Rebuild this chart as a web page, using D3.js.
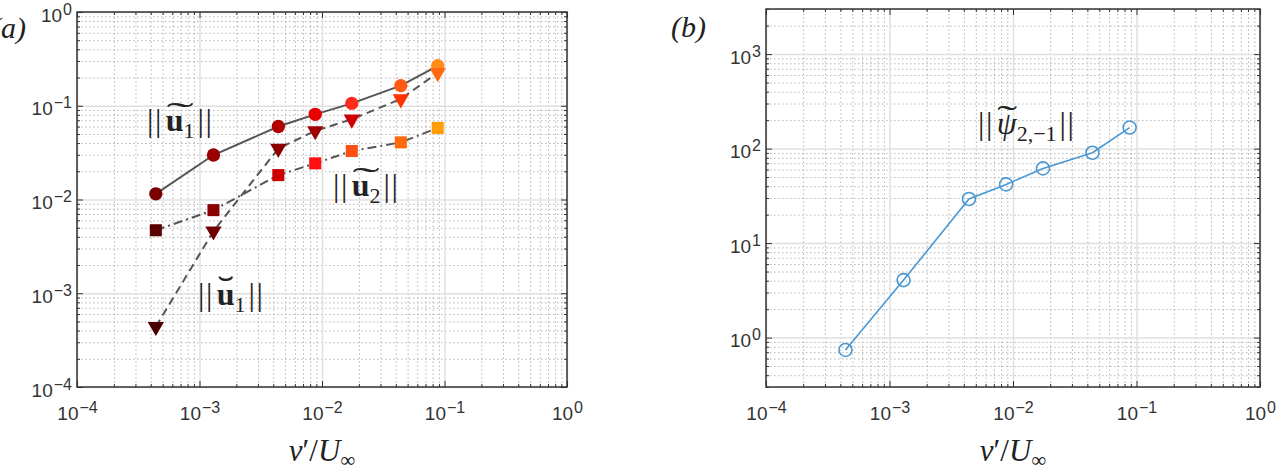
<!DOCTYPE html>
<html>
<head>
<meta charset="utf-8">
<script src="https://cdn.jsdelivr.net/npm/d3@7"></script>
<style>
body { margin: 0; background: #fff; }
svg { display: block; }
.grid .domain, .ticks .domain { display: none; }
.grid.major line { stroke: #e0e0e0; stroke-width: 1.5; }
.grid.minor line { stroke: #b4b4b4; stroke-width: 1; stroke-dasharray: 1.5 2.5; }
.ticks line { stroke: #333; stroke-width: 1; }
.math { font-family: "Liberation Serif", "DejaVu Serif", serif; fill: #222; }
</style>
</head>
<body>
<svg width="1278" height="471"></svg>
<script>
// values
var amp = [4.4e-4, 1.3e-3, 4.4e-3, 8.8e-3, 1.75e-2, 4.4e-2, 8.8e-2];
var u1Tilde = [0.0115, 0.0298, 0.060, 0.081, 0.106, 0.164, 0.267];
var u1Check = [4.4e-4, 4.6e-3, 0.035, 0.054, 0.0717, 0.118, 0.225];
var u2Tilde = [4.7e-3, 7.7e-3, 0.0182, 0.0243, 0.0329, 0.0407, 0.058];
var psi = [0.74, 4.06, 29.3, 41.8, 61.7, 90.4, 167];

// marker colours, one per amplitude
var redsCircle = ["#7a0000", "#990000", "#b00000", "#e80000", "#ff2a1a", "#ff5a14", "#ff8c1a"];
var redsTri = ["#4a0000", "#700000", "#8a0000", "#a00000", "#d00000", "#ff3300", "#ff6a10"];
var redsSquare = ["#5a0000", "#8b0000", "#cc0000", "#ff1010", "#ff5014", "#ff6a0a", "#ff9d00"];

var svg = d3.select("svg");

function isDecade(d) {
    var l = Math.log10(d);
    return Math.abs(l - Math.round(l)) < 1e-6;
}

function powLabel(sel) {
    sel.style("font-family", '"Liberation Sans", Arial, sans-serif')
        .style("font-size", "19px").style("fill", "#333");
    sel.each(function (d) {
        var t = d3.select(this);
        var e = Math.round(Math.log10(d));
        t.text(null);
        t.append("tspan").text("10");
        t.append("tspan").attr("dy", -7).attr("dx", 1).style("font-size", "16px")
            .text(e < 0 ? "\u2212" + (-e) : e);
    });
}

function panel(xDomain, xRange, yDomain, yRange) {
    var x = d3.scaleLog().domain(xDomain).range(xRange);
    var y = d3.scaleLog().domain(yDomain).range(yRange);
    var x0 = xRange[0], x1 = xRange[1], y0 = yRange[1], y1 = yRange[0];
    var w = x1 - x0, h = y1 - y0;
    var xMinor = x.ticks().filter(function (d) { return !isDecade(d); });
    var yMinor = y.ticks().filter(function (d) { return !isDecade(d); });
    var xMajor = x.ticks().filter(isDecade);
    var yMajor = y.ticks().filter(isDecade);
    var g = svg.append("g");

    // grid
    g.append("g").attr("class", "grid minor").attr("transform", "translate(0," + y1 + ")")
        .call(d3.axisBottom(x).tickValues(xMinor).tickSize(-h).tickFormat(""));
    g.append("g").attr("class", "grid minor").attr("transform", "translate(" + x0 + ",0)")
        .call(d3.axisLeft(y).tickValues(yMinor).tickSize(-w).tickFormat(""));
    g.append("g").attr("class", "grid major").attr("transform", "translate(0," + y1 + ")")
        .call(d3.axisBottom(x).tickValues(xMajor).tickSize(-h).tickFormat(""));
    g.append("g").attr("class", "grid major").attr("transform", "translate(" + x0 + ",0)")
        .call(d3.axisLeft(y).tickValues(yMajor).tickSize(-w).tickFormat(""));

    // inward ticks on all four sides
    [[xMinor, 3], [xMajor, 6]].forEach(function (p) {
        g.append("g").attr("class", "ticks").attr("transform", "translate(0," + y1 + ")")
            .call(d3.axisBottom(x).tickValues(p[0]).tickSize(-p[1]).tickFormat(""));
        g.append("g").attr("class", "ticks").attr("transform", "translate(0," + y0 + ")")
            .call(d3.axisTop(x).tickValues(p[0]).tickSize(-p[1]).tickFormat(""));
    });
    [[yMinor, 3], [yMajor, 6]].forEach(function (p) {
        g.append("g").attr("class", "ticks").attr("transform", "translate(" + x0 + ",0)")
            .call(d3.axisLeft(y).tickValues(p[0]).tickSize(-p[1]).tickFormat(""));
        g.append("g").attr("class", "ticks").attr("transform", "translate(" + x1 + ",0)")
            .call(d3.axisRight(y).tickValues(p[0]).tickSize(-p[1]).tickFormat(""));
    });

    // labels
    var xl = g.append("g").attr("class", "ticks").attr("transform", "translate(0," + y1 + ")")
        .call(d3.axisBottom(x).tickValues(xMajor).tickSize(0));
    xl.selectAll(".tick text").attr("y", 33).attr("dy", null).call(powLabel);
    var yl = g.append("g").attr("class", "ticks").attr("transform", "translate(" + x0 + ",0)")
        .call(d3.axisLeft(y).tickValues(yMajor).tickSize(0));
    yl.selectAll(".tick text").attr("x", -5).attr("y", 9).attr("dy", null).call(powLabel);

    g.append("rect").attr("x", x0).attr("y", y0).attr("width", w).attr("height", h)
        .attr("fill", "none").attr("stroke", "#333").attr("stroke-width", 1.5);

    // x axis title
    var t = g.append("text").attr("class", "math").attr("x", (x0 + x1) / 2).attr("y", 461)
        .attr("text-anchor", "middle").attr("font-size", 31);
    t.append("tspan").attr("font-style", "italic").text("v");
    t.append("tspan").text("\u2032/");
    t.append("tspan").attr("font-style", "italic").text("U");
    t.append("tspan").attr("font-size", 21).attr("dy", 6).text("\u221e");

    return { g: g, x: x, y: y };
}

// (a)
var pa = panel([1e-4, 1], [77, 567], [1e-4, 1], [387, 12]);

function series(p, vals, dash, colors, shape, size, rot) {
    var line = d3.line().x(function (d, i) { return p.x(amp[i]); }).y(function (d) { return p.y(d); });
    p.g.append("path").datum(vals).attr("d", line).attr("fill", "none")
        .attr("stroke", "#555").attr("stroke-width", 2).attr("stroke-dasharray", dash);
    p.g.selectAll(null).data(vals).enter().append("path")
        .attr("d", d3.symbol(shape, size))
        .attr("transform", function (d, i) { return "translate(" + p.x(amp[i]) + "," + p.y(d) + ") rotate(" + rot + ")"; })
        .attr("fill", function (d, i) { return colors[i]; });
}

series(pa, u1Tilde, null, redsCircle, d3.symbolCircle, 140, 0);
series(pa, u1Check, "8 5", redsTri, d3.symbolTriangle, 115, 180);
series(pa, u2Tilde, "9 4 2 4", redsSquare, d3.symbolSquare, 145, 0);

// ||base_sub|| with an accent placed above the base (wide accents also cover the subscript)
function norm(g, x, y, base, sub, accent, wide, italic) {
    var t = g.append("text").attr("class", "math").attr("x", x).attr("y", y).attr("font-size", 32);
    t.append("tspan").attr("letter-spacing", 1.5).text("||");
    var b = t.append("tspan").attr("dx", 3).attr("font-weight", italic ? null : "bold")
        .attr("font-style", italic ? "italic" : null).text(base);
    var s = t.append("tspan").attr("font-size", 22).attr("dy", 7).text(sub);
    t.append("tspan").attr("dy", -7).attr("dx", 3).attr("letter-spacing", 1.5).text("||");
    var bb = b.node().getBBox(), sb = s.node().getBBox();
    var left = bb.x, right = wide ? sb.x + sb.width : bb.x + bb.width;
    var wAcc = Math.max(right - left, 14) * 0.95;
    t.append("tspan").attr("x", (left + right) / 2 - wAcc / 2).attr("y", bb.y + 24)
        .attr("font-size", 34).attr("font-weight", "normal").attr("font-style", "normal")
        .attr("textLength", wAcc).attr("lengthAdjust", "spacingAndGlyphs").text(accent);
}

norm(pa.g, 147, 131, "u", "1", "\u02dc", true, false);
norm(pa.g, 333, 196, "u", "2", "\u02dc", true, false);
norm(pa.g, 198, 305, "u", "1", "\u02d8", false, false);

svg.append("text").attr("class", "math").attr("x", -9).attr("y", 38)
    .attr("font-size", 30).attr("font-style", "italic").text("(a)");

// (b)
var pb = panel([1e-4, 1], [766, 1260], [0.3, 3000], [387, 9]);
var lineB = d3.line().x(function (d, i) { return pb.x(amp[i]); }).y(function (d) { return pb.y(d); });
pb.g.append("path").datum(psi).attr("d", lineB).attr("fill", "none")
    .attr("stroke", "#4a98d3").attr("stroke-width", 1.6);
pb.g.selectAll("circle.psi").data(psi).enter().append("circle").attr("class", "psi")
    .attr("cx", function (d, i) { return pb.x(amp[i]); })
    .attr("cy", function (d) { return pb.y(d); })
    .attr("r", 6.5).attr("fill", "none").attr("stroke", "#4a98d3").attr("stroke-width", 1.6);

norm(pb.g, 978, 134, "\u03c8", "2,\u22121", "\u02dc", false, true);

svg.append("text").attr("class", "math").attr("x", 671).attr("y", 37)
    .attr("font-size", 30).attr("font-style", "italic").text("(b)");
</script>
</body>
</html>
